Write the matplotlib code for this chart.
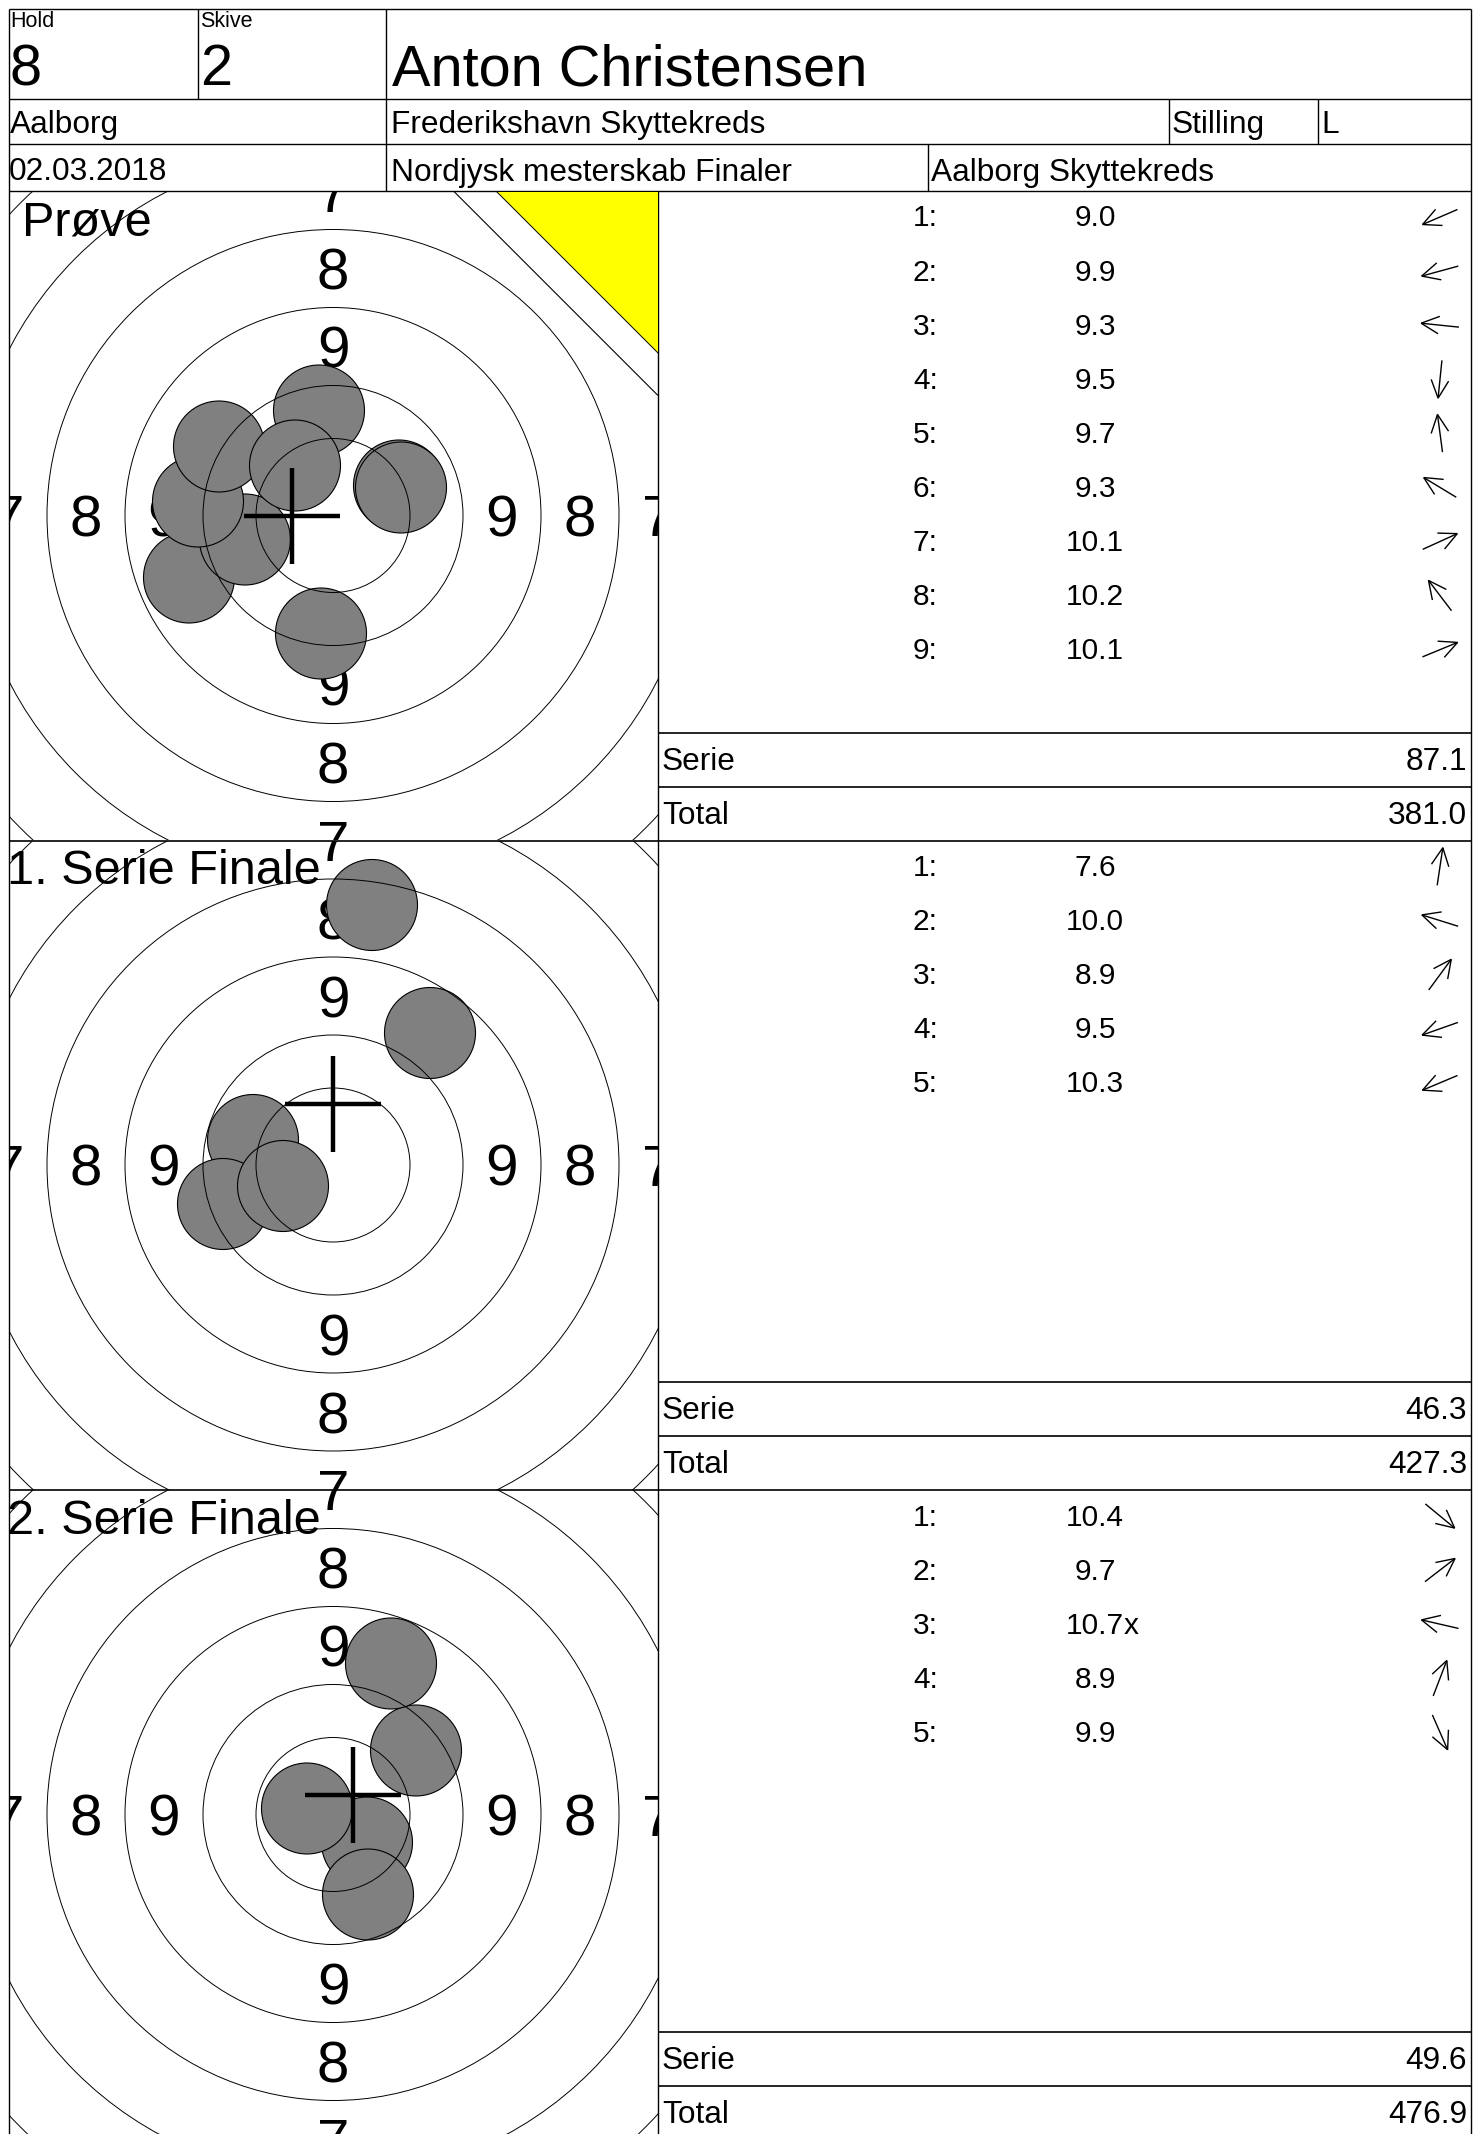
import math
import matplotlib
matplotlib.use('Agg')
import matplotlib.pyplot as plt
from matplotlib.patches import Circle, Polygon

plt.rcParams['font.family'] = ['Liberation Sans', 'DejaVu Sans']

# header fields
hold = '8'
skive = '2'
shooter = 'Anton Christensen'
club = 'Aalborg'
kreds = 'Frederikshavn Skyttekreds'
stilling = 'L'
date = '02.03.2018'
event = 'Nordjysk mesterskab Finaler'
host = 'Aalborg Skyttekreds'

# one entry per target
titles = ['Prøve', '1. Serie Finale', '2. Serie Finale']
scores = [
    ['9.0', '9.9', '9.3', '9.5', '9.7', '9.3', '10.1', '10.2', '10.1'],
    ['7.6', '10.0', '8.9', '9.5', '10.3'],
    ['10.4', '9.7', '10.7x', '8.9', '9.9'],
]
# shot centres, px from target centre (y up)
shots_x = [
    [-144, -88, -135, -12, -14, -114, 66, -38, 68],
    [39, -80, 97, -110, -50],
    [34, 83, -26, 58, 35],
]
shots_y = [
    [-62, -24, 14, -118, 105, 69, 30, 50, 28],
    [260, 25, 132, -39, -21],
    [-28, 64, 6, 151, -80],
]
cross_x = [-41, 0, 20]
cross_y = [0, 61, 20]
serie = ['87.1', '46.3', '49.6']
total = ['381.0', '427.3', '476.9']

ring_radii = [77, 130, 208, 286, 364, 442]
ring_labels = ['9', '8', '7']
label_radii = [169, 247, 325]

W, H, DPI = 1478, 2134, 100
L, R, T = 8.5, 1471, 8.5
ROW1, ROW2, ROW3 = 99, 144, 191
PANEL = 649
STEP = 649.5
MID = L + PANEL
ROW_H = PANEL / 12
panel_tops = [ROW3, ROW3 + STEP, ROW3 + 2 * STEP]

fig = plt.figure(figsize=(W / DPI, H / DPI), dpi=DPI)
ax = fig.add_axes([0, 0, 1, 1])
ax.set_xlim(0, W)
ax.set_ylim(H, 0)
ax.axis('off')


def line(x0, y0, x1, y1, lw=1.0):
    ax.plot([x0, x1], [y0, y1], color='black', lw=lw, solid_capstyle='butt')


# frame + header grid
line(L, T, R, T)
line(L, T, L, H)
line(R, T, R, H)
for y in (ROW1, ROW2, ROW3):
    line(L, y, R, y)
line(198, T, 198, ROW1)
line(386, T, 386, ROW3)
line(1169, ROW1, 1169, ROW2)
line(1318, ROW1, 1318, ROW2)
line(928, ROW2, 928, ROW3)
line(MID, ROW3, MID, H)
for top in panel_tops[1:]:
    line(L, top, R, top, lw=1.2)

SMALL, BIG, MIDF = 15.5, 41.6, 22.8
ax.text(10, 27, 'Hold', fontsize=SMALL, va='baseline')
ax.text(200, 27, 'Skive', fontsize=SMALL, va='baseline')
ax.text(9, 85, hold, fontsize=BIG, va='baseline')
ax.text(200, 85, skive, fontsize=BIG, va='baseline')
ax.text(392, 85, shooter, fontsize=BIG, va='baseline')
ax.text(10, 133, club, fontsize=MIDF, va='baseline')
ax.text(391, 133, kreds, fontsize=MIDF, va='baseline')
ax.text(1172, 133, 'Stilling', fontsize=MIDF, va='baseline')
ax.text(1321, 133, stilling, fontsize=MIDF, va='baseline')
ax.text(9, 180.5, date, fontsize=MIDF, va='baseline')
ax.text(391, 180.5, event, fontsize=MIDF, va='baseline')
ax.text(931, 180.5, host, fontsize=MIDF, va='baseline')


def arrow(cx, cy, ang, half=19, barb=20):
    ux, uy = math.cos(ang), -math.sin(ang)
    tx, ty = cx + ux * half, cy + uy * half
    line(cx - ux * half, cy - uy * half, tx, ty, lw=1.0)
    for s in (1, -1):
        a = ang + math.pi + s * math.radians(26)
        line(tx, ty, tx + barb * math.cos(a), ty - barb * math.sin(a), lw=1.0)


LIST = 21.5
TAB = 22.8
for i, top in enumerate(panel_tops):
    # score list
    for j, s in enumerate(scores[i]):
        yb = top + ROW_H * j + 35.5
        ax.text(913, yb, f'{j + 1}:', fontsize=LIST, va='baseline')
        t = ax.text(1095, yb, s.rstrip('x'), fontsize=LIST, ha='center', va='baseline')
        if s.endswith('x'):
            ax.annotate('x', xy=(1, 0), xycoords=t, ha='left', va='bottom', fontsize=LIST)
        arrow(1440, top + ROW_H * j + 26, math.atan2(shots_y[i][j], shots_x[i][j]))
    # serie / total rows
    ys, yt = top + 10 * ROW_H + 1, top + 11 * ROW_H + 1
    line(MID, ys, R, ys, lw=1.2)
    line(MID, yt, R, yt, lw=1.2)
    ax.text(662, ys + 37, 'Serie', fontsize=TAB, va='baseline')
    ax.text(1467, ys + 37, serie[i], fontsize=TAB, ha='right', va='baseline')
    ax.text(662, yt + 37, 'Total', fontsize=TAB, va='baseline')
    ax.text(1467, yt + 37, total[i], fontsize=TAB, ha='right', va='baseline')

    # target
    hp = PANEL / 2
    axp = fig.add_axes([L / W, 1 - (top + PANEL) / H, PANEL / W, PANEL / H])
    axp.set_xlim(-hp, hp)
    axp.set_ylim(-hp, hp)
    axp.axis('off')
    for lab, r in zip(ring_labels, label_radii):
        for px, py in ((0, r), (0, -r), (-r, 0), (r, 0)):
            axp.text(px, py, lab, fontsize=42, ha='center', va='center_baseline',
                     clip_on=True, zorder=1)
    for x, y in zip(shots_x[i], shots_y[i]):
        axp.add_patch(Circle((x, y), 45.5, fc='#808080', ec='black', lw=0.8, zorder=3))
    for r in ring_radii:
        axp.add_patch(Circle((0, 0), r, fill=False, ec='black', lw=0.7, zorder=4))
    cx, cy = cross_x[i], cross_y[i]
    axp.plot([cx - 48, cx + 48], [cy, cy], color='black', lw=3.2, zorder=5,
             solid_capstyle='butt')
    axp.plot([cx, cx], [cy - 48, cy + 48], color='black', lw=3.2, zorder=5,
             solid_capstyle='butt')
    if i == 0:
        axp.plot([445 - hp, hp], [hp, 445 - hp], color='black', lw=0.8, zorder=4)
        axp.add_patch(Polygon([(487 - hp, hp), (hp, hp), (hp, 487 - hp)],
                              closed=True, fc='#ffff00', ec='black', lw=0.7, zorder=6))
    axp.text(-hp + (14 if i == 0 else -1.5), hp - 44, titles[i], fontsize=35,
             va='baseline', zorder=7)

fig.savefig('out.png', dpi=DPI)
